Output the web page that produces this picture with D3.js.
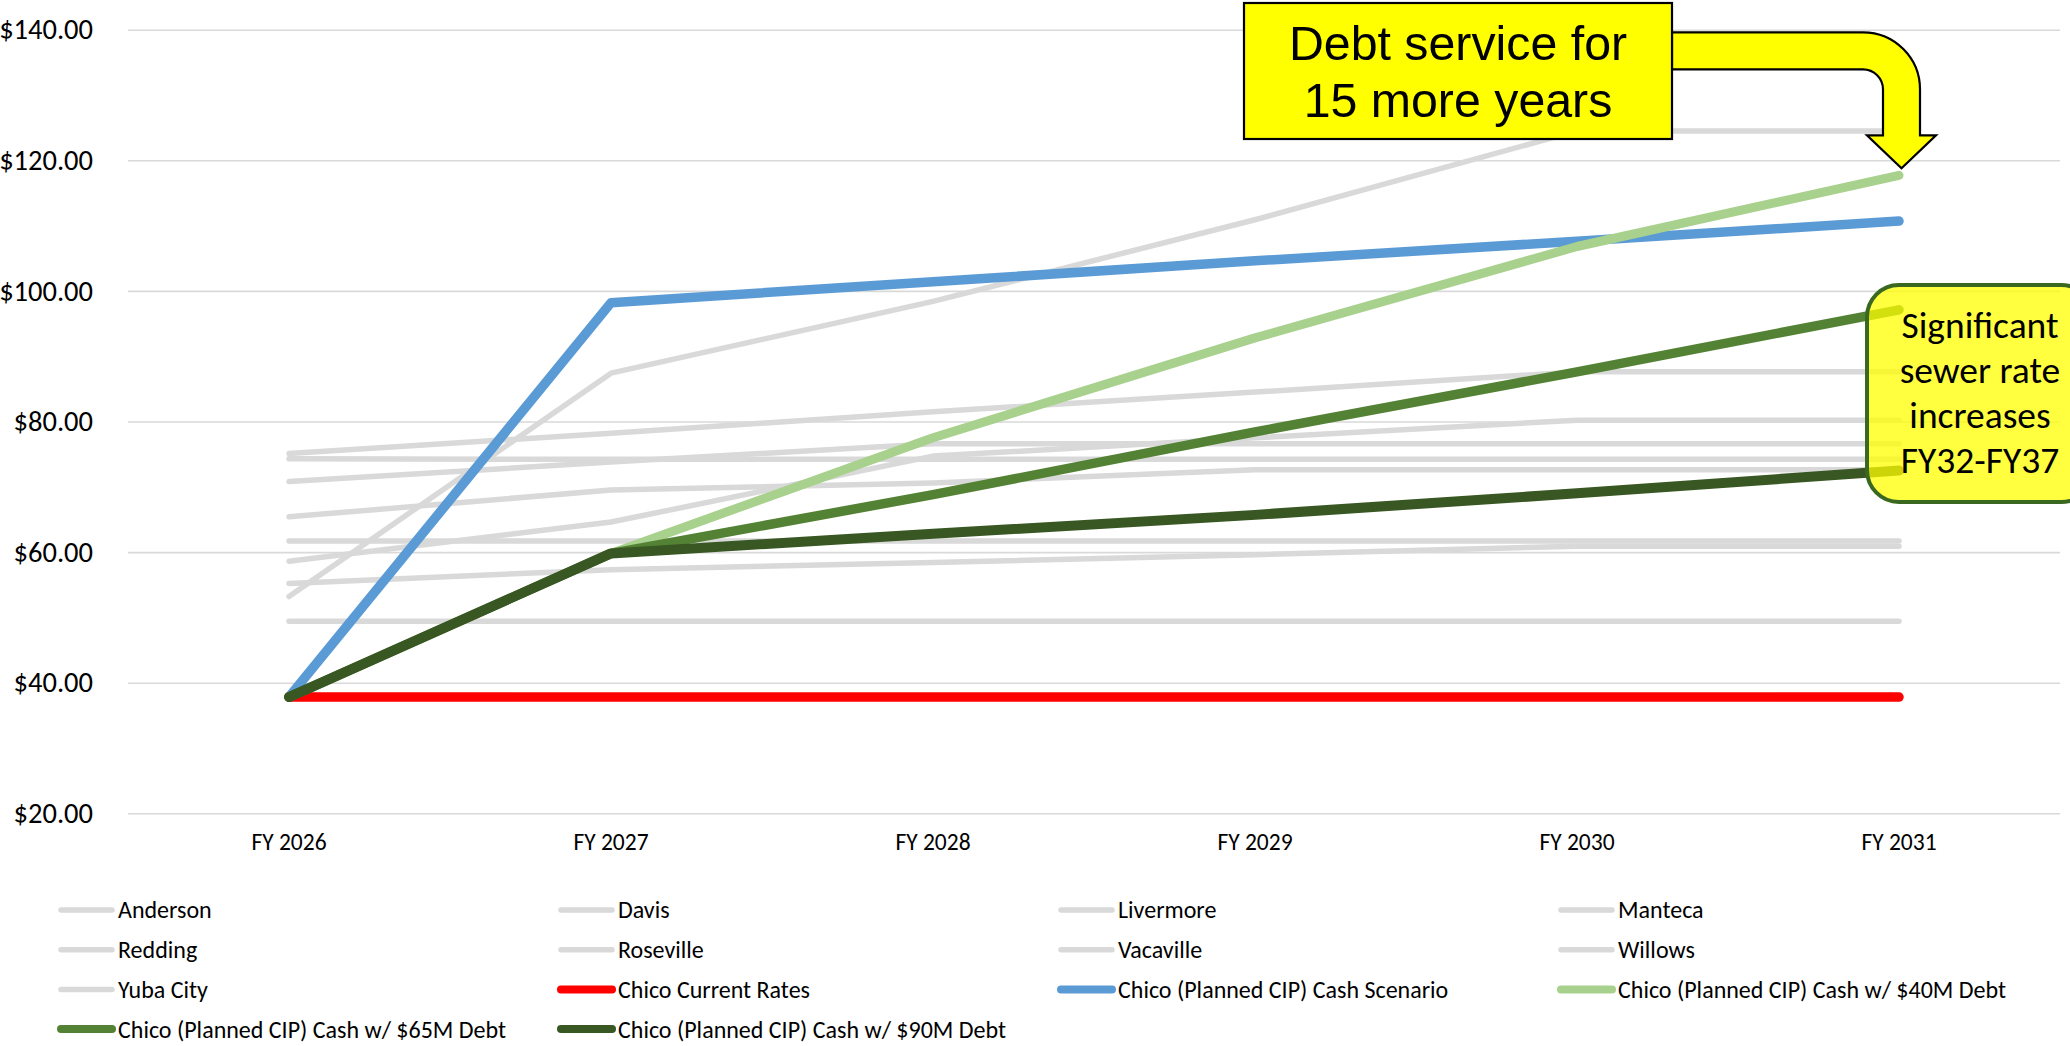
<!DOCTYPE html>
<html>
<head>
<meta charset="utf-8">
<script src="https://cdn.jsdelivr.net/npm/d3@7"></script>
<style>
  html, body { margin: 0; padding: 0; background: #ffffff; }
  svg { display: block; }
</style>
</head>
<body>
<svg id="chart" width="2070" height="1046"></svg>
<script>
// Monthly sewer rate by fiscal year
const categories = ["FY 2026", "FY 2027", "FY 2028", "FY 2029", "FY 2030", "FY 2031"];
const yTicks = [20, 40, 60, 80, 100, 120, 140];

// Comparison cities
const anderson  = [75.1, 78.2, 81.5, 84.5, 87.6, 87.6];
const davis     = [53.2, 87.4, 98.4, 110.9, 124.5, 124.5];
const livermore = [74.3, 74.2, 74.2, 74.2, 74.2, 74.2];
const manteca   = [70.8, 73.8, 76.6, 76.6, 76.6, 76.6];
const redding   = [65.4, 69.5, 70.6, 72.6, 72.6, 72.6];
const roseville = [58.6, 64.6, 74.7, 77.5, 80.2, 80.2];
const vacaville = [61.7, 61.7, 61.7, 61.7, 61.7, 61.7];
const willows   = [55.2, 57.3, 58.4, 59.6, 60.9, 60.9];
const yubaCity  = [49.4, 49.4, 49.4, 49.4, 49.4, 49.4];

// Chico scenarios
const chicoCurrent = [37.8, 37.8, 37.8, 37.8, 37.8, 37.8];
const chicoCash    = [37.8, 98.2, 101.4, 104.6, 107.6, 110.7];
const chicoDebt40  = [37.8, 59.8, 77.5, 92.8, 106.8, 117.7];
const chicoDebt65  = [37.8, 59.8, 68.8, 78.4, 87.6, 97.1];
const chicoDebt90  = [37.8, 59.8, 62.8, 65.7, 69.0, 72.5];

const GRAY = "#d9d9d9";
const series = [
  { name: "Anderson",  values: anderson,  color: GRAY, width: 5.5 },
  { name: "Davis",     values: davis,     color: GRAY, width: 5.5 },
  { name: "Livermore", values: livermore, color: GRAY, width: 5.5 },
  { name: "Manteca",   values: manteca,   color: GRAY, width: 5.5 },
  { name: "Redding",   values: redding,   color: GRAY, width: 5.5 },
  { name: "Roseville", values: roseville, color: GRAY, width: 5.5 },
  { name: "Vacaville", values: vacaville, color: GRAY, width: 5.5 },
  { name: "Willows",   values: willows,   color: GRAY, width: 5.5 },
  { name: "Yuba City", values: yubaCity,  color: GRAY, width: 5.5 },
  { name: "Chico Current Rates", values: chicoCurrent, color: "#ff0000", width: 9.5 },
  { name: "Chico (Planned CIP) Cash Scenario", values: chicoCash, color: "#5b9bd5", width: 9.5 },
  { name: "Chico (Planned CIP) Cash w/ $40M Debt", values: chicoDebt40, color: "#a9d18e", width: 9 },
  { name: "Chico (Planned CIP) Cash w/ $65M Debt", values: chicoDebt65, color: "#548235", width: 9.5 },
  { name: "Chico (Planned CIP) Cash w/ $90M Debt", values: chicoDebt90, color: "#385723", width: 10 }
];

const FONT = "Carlito, Calibri, Lato, sans-serif";
const svg = d3.select("#chart");

const plot = { left: 128, right: 2060, top: 29.7, bottom: 813.3 };

const x = d3.scaleBand().domain(categories).range([plot.left, plot.right]);
const xc = c => x(c) + x.bandwidth() / 2;
const y = d3.scaleLinear().domain([20, 140]).range([plot.bottom, plot.top]);

// Value axis with horizontal gridlines
const yAxis = svg.append("g")
  .attr("transform", `translate(${plot.left},0)`)
  .call(d3.axisLeft(y)
    .tickValues(yTicks)
    .tickFormat(d => "$" + d.toFixed(2))
    .tickSizeInner(-(plot.right - plot.left))
    .tickSizeOuter(0)
    .tickPadding(35));
yAxis.select(".domain").remove();
yAxis.selectAll(".tick line").attr("stroke", "#d9d9d9").attr("stroke-width", 1.6);
yAxis.selectAll(".tick text")
  .attr("fill", "#000")
  .style("font-family", FONT)
  .style("font-size", "28.5px");

// Category axis
const xAxis = svg.append("g")
  .attr("transform", `translate(0,${plot.bottom})`)
  .call(d3.axisBottom(x).tickSize(0).tickPadding(20));
xAxis.select(".domain").remove();
xAxis.selectAll(".tick text")
  .attr("fill", "#000")
  .style("font-family", FONT)
  .style("font-size", "23.5px");

// Series lines
const line = d3.line()
  .x((d, i) => xc(categories[i]))
  .y(d => y(d));

svg.append("g")
  .selectAll("path")
  .data(series)
  .join("path")
  .attr("d", d => line(d.values))
  .attr("fill", "none")
  .attr("stroke", d => d.color)
  .attr("stroke-width", d => d.width)
  .attr("stroke-linecap", "round")
  .attr("stroke-linejoin", "round");

// Legend: four columns, row-major
const legend = svg.append("g");
const legItems = legend.selectAll("g")
  .data(series)
  .join("g")
  .attr("transform", (d, i) => `translate(${59 + (i % 4) * 500},${910 + Math.floor(i / 4) * 39.7})`);
legItems.append("line")
  .attr("x1", 2).attr("x2", 53)
  .attr("stroke", d => d.color)
  .attr("stroke-width", d => d.width === 5.5 ? 5.5 : 8)
  .attr("stroke-linecap", "round");
legItems.append("text")
  .attr("x", 59)
  .attr("dy", "0.35em")
  .attr("fill", "#000")
  .style("font-family", FONT)
  .style("font-size", "24px")
  .text(d => d.name);

// Callout: debt service, with bent arrow pointing at the $40M debt scenario in FY 2031
const last = categories.length - 1;
const tipX = xc(categories[last]) + 2.5;
const tipY = y(chicoDebt40[last]) - 7;
const box1 = { x: 1244, y: 3, w: 428, h: 136 };
const shaftTop = 32.3, shaftThick = 37, R = 57, r = 20;
const half = shaftThick / 2, headHalf = 34.5, headLen = 33;
const outerX = tipX + half, innerX = tipX - half;
const boxRight = box1.x + box1.w;
const arrowPath = [
  `M${boxRight},${shaftTop}`,
  `H${outerX - R}`,
  `A${R},${R} 0 0 1 ${outerX},${shaftTop + R}`,
  `V${tipY - headLen}`,
  `H${tipX + headHalf}`,
  `L${tipX},${tipY}`,
  `L${tipX - headHalf},${tipY - headLen}`,
  `H${innerX}`,
  `V${shaftTop + shaftThick + r}`,
  `A${r},${r} 0 0 0 ${innerX - r},${shaftTop + shaftThick}`,
  `H${boxRight}`,
  "Z"
].join(" ");
svg.append("path")
  .attr("d", arrowPath)
  .attr("fill", "#ffff00")
  .attr("stroke", "#000")
  .attr("stroke-width", 2.2)
  .attr("stroke-linejoin", "miter");

svg.append("rect")
  .attr("x", box1.x).attr("y", box1.y)
  .attr("width", box1.w).attr("height", box1.h)
  .attr("fill", "#ffff00")
  .attr("stroke", "#000")
  .attr("stroke-width", 2.2);
const box1Text = svg.append("text")
  .attr("text-anchor", "middle")
  .attr("fill", "#000")
  .style("font-family", "'Liberation Sans', Arial, sans-serif")
  .style("font-size", "48.3px");
box1Text.append("tspan").attr("x", box1.x + box1.w / 2).attr("y", 60).text("Debt service for");
box1Text.append("tspan").attr("x", box1.x + box1.w / 2).attr("y", 117).text("15 more years");

// Callout: later rate increases (translucent, lines show through)
const box2 = { x: 1867, y: 285, w: 226, h: 217 };
svg.append("rect")
  .attr("x", box2.x).attr("y", box2.y)
  .attr("width", box2.w).attr("height", box2.h)
  .attr("rx", 32).attr("ry", 32)
  .attr("fill", "rgba(255,255,0,0.75)")
  .attr("stroke", "#3a6820")
  .attr("stroke-width", 4);
const box2Lines = ["Significant", "sewer rate", "increases", "FY32-FY37"];
svg.append("text")
  .attr("text-anchor", "middle")
  .attr("fill", "#000")
  .style("font-family", FONT)
  .style("font-size", "37.5px")
  .selectAll("tspan")
  .data(box2Lines)
  .join("tspan")
  .attr("x", box2.x + box2.w / 2)
  .attr("y", (d, i) => 338 + i * 45)
  .text(d => d);
</script>
</body>
</html>
